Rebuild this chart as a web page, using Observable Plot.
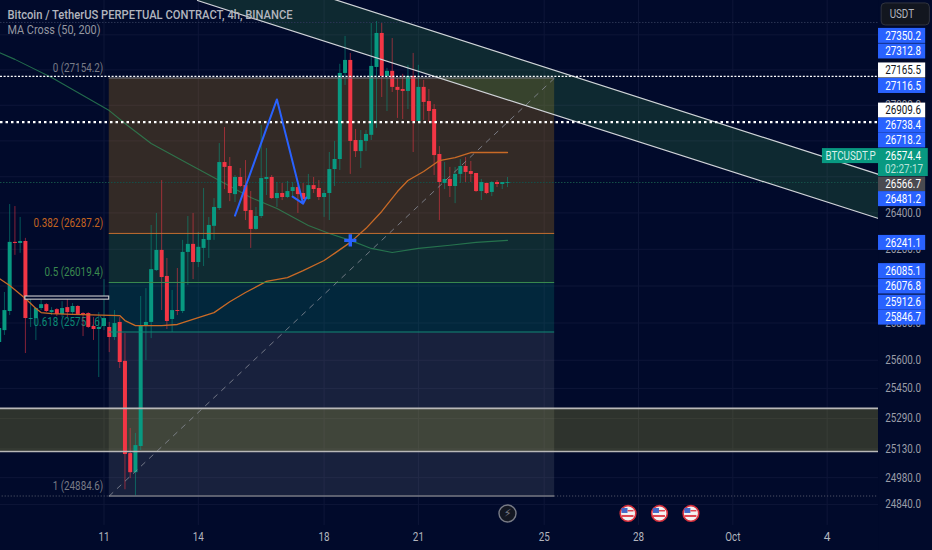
<!DOCTYPE html>
<html><head><meta charset="utf-8">
<script src="https://cdn.jsdelivr.net/npm/d3@7"></script>
<script src="https://cdn.jsdelivr.net/npm/@observablehq/plot@0.6"></script>
<style>html,body{margin:0;padding:0;background:#010a2b;overflow:hidden}svg{display:block}</style>
</head><body><div id="chart"></div>
<script>
const BG = "#010a2b";
const firstBar = -20;
const opens = [25695,25759,25862,26238,26232,26243,25819,25824,25878,25899,25856,25872,25846,25883,25856,25889,25851,25851,25781,25765,25781,25776,25722,25803,25594,25106,25006,25143,25786,25803,26084,26194,26052,25819,25867,25862,26183,26227,26128,26205,26249,26326,26424,26679,26657,26501,26596,26551,26413,26309,26380,26585,26596,26479,26507,26485,26518,26540,26507,26474,26551,26535,26485,26507,26640,26696,27180,27254,26802,26740,26797,26831,27214,27408,27163,27192,27101,27089,27078,27163,26909,27101,27021,26976,26724,26563,26585,26546,26613,26657,26629,26618,26518,26563,26513,26568,26557,26563];
const highs = [25813,25965,26446,26435,26375,26260,25937,25883,25926,25905,25883,25878,25915,25937,25905,25894,25856,25856,25829,25856,26035,25803,25867,25829,25743,25238,25212,25943,25986,26331,26397,26579,26150,25976,26095,26249,26380,26397,26293,26535,26375,26479,26785,26875,26707,26607,26646,26690,26518,26430,26886,26757,26607,26568,26563,26574,26568,26551,26563,26613,26596,26579,26524,26735,26797,27232,27391,27294,26864,26858,26858,27465,27476,27465,27209,27379,27152,27175,27226,27294,27226,27141,27089,27004,26768,26679,26652,26652,26696,26707,26685,26618,26585,26563,26574,26579,26568,26596];
const lows = [25652,25733,25840,26167,26178,25636,25776,25706,25867,25856,25840,25835,25829,25829,25840,25840,25727,25770,25706,25508,25759,25641,25706,25556,24917,24975,24885,25122,25599,25716,26079,25867,25765,25749,25840,25851,26003,26035,26100,26106,26150,26249,26413,26529,26462,26457,26540,26358,26205,26304,26369,26496,26474,26430,26468,26479,26485,26397,26451,26468,26507,26468,26375,26358,26546,26635,27112,26613,26707,26646,26740,26802,26870,27044,26965,27072,26926,26920,26976,26735,26903,26915,26903,26607,26358,26529,26485,26451,26563,26568,26568,26513,26468,26501,26490,26540,26529,26540];
const closes = [25770,25867,26238,26232,26243,25824,25824,25878,25899,25862,25867,25846,25878,25856,25889,25846,25846,25776,25765,25776,25824,25722,25797,25588,25101,25006,25148,25786,25803,26089,26194,26046,25808,25867,25862,26183,26227,26128,26211,26254,26331,26430,26679,26652,26507,26596,26546,26408,26309,26380,26590,26596,26479,26507,26485,26518,26540,26501,26474,26551,26529,26485,26507,26640,26696,27180,27254,26797,26740,26802,26836,27220,27408,27163,27192,27101,27084,27078,27163,26909,27101,27016,26965,26718,26568,26585,26546,26613,26657,26624,26613,26518,26568,26507,26568,26557,26568,26568];

const maFastBars = [-20,-18,-15,-13,-12,-10,-6,3,4,6,11,14,18,21,24,27,31,35,38,42,44,47,50,53,56,58,61,64,67,70,72,77];
const maFast = [26041,26003,25932,25878,25856,25851,25846,25840,25813,25786,25786,25792,25829,25856,25915,25965,26025,26046,26084,26139,26178,26238,26315,26408,26518,26579,26629,26690,26707,26735,26735,26735];
const maSlowBars = [-20,-17,-10,-5,1,4.5,9,16,22,28,33,39,43,47,51,55,60,66,71,77];
const maSlow = [27299,27260,27157,27072,26970,26886,26785,26674,26579,26485,26424,26331,26287,26249,26205,26183,26205,26222,26238,26249];

const fibBars = [1,86];
const fibPrices = [27154.2,26287.2,26019.4,25751.6,24884.6];
const fibLabels = ["0 (27154.2)","0.382 (26287.2)","0.5 (26019.4)","0.618 (25751.6)","1 (24884.6)"];
const fibLineColors = ["#787b86","#c96f2f","#3d8f4f","#0e8a78","#787b86"];
const fibTextColors = ["#787b86","#c4641f","#3b8a4f","#0b8a76","#787b86"];
const fibFillColors = ["rgb(255,170,18)","rgb(76,175,80)","rgb(8,153,129)","rgb(120,123,134)"];

const channelBars = [17.84,147.8];
const channelUpper = [27858,26613];
const channelLower = [27597,26369];
const bandPrices = [25344,25117];
const bandBars = [-20,147.8];
const boxPrices = [25943,25926];
const boxBars = [-15,1];

const zigBars = [25,33,38,36,38,38.6];
const zigPrices = [26385,27033,26451,26490,26451,26485];

const dottedTop = 27163;
const dottedMid = 26905;
const dottedFaint = [27471,26568];
const dottedFaintColors = ["#2b3554","#155049"];

const xTickBars = [0,18,42,60,84,102,120,138];
const xTickLabels = ["11","14","18","21","25","28","Oct","4"];
const yGrid = [24840,24980,25130,25290,25450,25600,25800,26000,26200,26400,26600,26800,27000,27200,27400];
const yTickLabels = [24840,24980,25130,25290,25450,25600,25800,26200,26400,27000];

const tagTexts = ["27350.2","27312.8","27165.5","27116.5","26909.6","26738.4","26718.2","26566.7","26481.2","26241.1","26085.1","26076.8","25912.6","25846.7"];
const tagAt = [27394,27305,27197,27109,26970,26886,26802,26557,26476,26235,26081,25997,25910,25829];
const tagFill = ["#2962ff","#2962ff","#ffffff","#2962ff","#ffffff","#2962ff","#2962ff","#4a4a50","#2962ff","#2962ff","#2962ff","#2962ff","#2962ff","#2962ff"];
const tagInk = ["#ffffff","#ffffff","#131722","#ffffff","#131722","#ffffff","#ffffff","#ffffff","#ffffff","#ffffff","#ffffff","#ffffff","#ffffff","#ffffff"];

const titleText = "Bitcoin / TetherUS PERPETUAL CONTRACT, 4h, BINANCE";
const studyText = "MA Cross (50, 200)";
const flagBars = [100,106,112];
const eventBar = 77;
const eventPrice = 24794;

const GREEN = "#089981", RED = "#f23645", BLUE = "#2962ff", TEAL = "#089981";
const FONT = "Roboto,'Noto Sans',sans-serif";
const idx = opens.map((d,i)=>i);
const barOf = i => firstBar + i;
const col = i => closes[i] >= opens[i] ? GREEN : RED;
const pairs = (xs,ys) => xs.map((x,i)=>({x,y:ys[i]}));
const axisX = [147.8,166];

const marks = [];
marks.push(Plot.ruleY(yGrid,{y:d=>d,stroke:"#0e1638",strokeWidth:1}));
marks.push(Plot.ruleX(xTickBars,{x:d=>d,y1:24732,y2:27700,stroke:"#0e1638",strokeWidth:1}));

marks.push(Plot.rect(fibFillColors,{x1:fibBars[0],x2:fibBars[1],y1:(d,i)=>fibPrices[i],y2:(d,i)=>fibPrices[i+1],fill:d=>d,fillOpacity:0.2}));
marks.push(Plot.rect([0],{x1:bandBars[0],x2:bandBars[1],y1:bandPrices[0],y2:bandPrices[1],fill:"rgb(200,190,50)",fillOpacity:0.23}));
marks.push(Plot.areaY(channelBars,{x:d=>d,y1:(d,i)=>channelLower[i],y2:(d,i)=>channelUpper[i],fill:"rgb(76,175,80)",fillOpacity:0.19}));

marks.push(Plot.ruleY(dottedFaint,{y:d=>d,stroke:(d,i)=>dottedFaintColors[i],strokeWidth:1,strokeDasharray:"1.5,1.5"}));
marks.push(Plot.ruleY([fibPrices[4]],{y:d=>d,x1:-20,x2:1,stroke:"#5d6070",strokeWidth:1,strokeDasharray:"1,2"}));
marks.push(Plot.ruleY([fibPrices[4]],{y:d=>d,x1:86,x2:147.8,stroke:"#5d6070",strokeWidth:1,strokeDasharray:"1,2"}));

marks.push(Plot.text(fibLabels,{x:fibBars[0],y:(d,i)=>fibPrices[i],text:d=>d,textAnchor:"end",dx:-6,dy:-10,fill:(d,i)=>fibTextColors[i],fontSize:12}));

marks.push(Plot.line(pairs(maSlowBars,maSlow),{x:"x",y:"y",stroke:"#2e8b57",strokeWidth:1.1,strokeOpacity:0.75}));

marks.push(Plot.ruleX(idx,{x:barOf,y1:i=>lows[i],y2:i=>highs[i],stroke:col,strokeWidth:1,strokeOpacity:0.55}));
marks.push(Plot.ruleX(idx,{x:barOf,y1:i=>opens[i],y2:i=>closes[i],stroke:col,strokeWidth:4}));

marks.push(Plot.line(pairs(maFastBars,maFast),{x:"x",y:"y",stroke:"#c96a26",strokeWidth:1.3}));

marks.push(Plot.ruleY(fibPrices,{y:d=>d,x1:fibBars[0],x2:fibBars[1],stroke:(d,i)=>fibLineColors[i],strokeWidth:(d,i)=>i===4?1.5:1}));
marks.push(Plot.line(pairs([fibBars[0],fibBars[1]],[fibPrices[4],fibPrices[0]]),{x:"x",y:"y",stroke:"#8a8d99",strokeWidth:1,strokeDasharray:"5,6",strokeOpacity:0.8}));

marks.push(Plot.ruleY(bandPrices,{y:d=>d,x1:bandBars[0],x2:bandBars[1],stroke:"#b8b8b8",strokeWidth:1.6}));
marks.push(Plot.rect([0],{x1:boxBars[0],x2:boxBars[1],y1:boxPrices[0],y2:boxPrices[1],fill:BG,stroke:"#d0d0d0",strokeWidth:1.1}));

marks.push(Plot.line(pairs(channelBars,channelUpper),{x:"x",y:"y",stroke:"#d0d4d8",strokeWidth:1.2}));
marks.push(Plot.line(pairs(channelBars,channelLower),{x:"x",y:"y",stroke:"#d0d4d8",strokeWidth:1.2}));

marks.push(Plot.ruleY([dottedTop],{y:d=>d,stroke:"#ffffff",strokeWidth:1.2,strokeDasharray:"2,1.6"}));
marks.push(Plot.ruleY([dottedMid],{y:d=>d,stroke:"#ffffff",strokeWidth:2.4,strokeDasharray:"2.5,3"}));

marks.push(Plot.line(pairs(zigBars,zigPrices),{x:"x",y:"y",stroke:BLUE,strokeWidth:2}));
marks.push(Plot.dot([47],{x:d=>d,y:26249,symbol:"plus",r:4,stroke:BLUE,strokeWidth:3.4}));

marks.push(Plot.dot([eventBar],{x:d=>d,y:eventPrice,r:8.5,stroke:"#787b86",strokeWidth:1.4,fill:"#131722"}));
marks.push(Plot.text([eventBar],{x:d=>d,y:eventPrice,text:()=>"\u26A1",fontFamily:"DejaVu Sans",fontSize:11,fill:"#787b86"}));
marks.push(Plot.dot(flagBars,{x:d=>d,y:eventPrice,r:7.8,stroke:"#d8303c",strokeWidth:1.6,fill:"#f2f2f2"}));
marks.push(Plot.rect(flagBars,{x1:d=>d,x2:d=>d,y1:eventPrice,y2:eventPrice,insetLeft:-6,insetRight:0,insetTop:-5,insetBottom:0,fill:"#4468c8"}));
marks.push(Plot.rect(flagBars,{x1:d=>d,x2:d=>d,y1:eventPrice,y2:eventPrice,insetLeft:0,insetRight:-6,insetTop:-3,insetBottom:1.5,fill:"#e0444f"}));
marks.push(Plot.rect(flagBars,{x1:d=>d,x2:d=>d,y1:eventPrice,y2:eventPrice,insetLeft:-6,insetRight:-6,insetTop:2,insetBottom:-4,fill:"#e0444f"}));

marks.push(Plot.rect([0],{x1:axisX[0],x2:axisX[1],y1:24500,y2:27700,fill:BG}));
marks.push(Plot.text(yTickLabels,{y:d=>d,text:d=>d.toFixed(1),frameAnchor:"right",textAnchor:"end",dx:-11.5,fill:"#9a9da8",fontSize:12}));
marks.push(Plot.rect(tagTexts,{x1:147.8,x2:156.8,y1:(d,i)=>tagAt[i],y2:(d,i)=>tagAt[i],insetTop:-7.5,insetBottom:-7.5,fill:(d,i)=>tagFill[i]}));
marks.push(Plot.text(tagTexts,{y:(d,i)=>tagAt[i],text:d=>d,frameAnchor:"right",textAnchor:"end",dx:-11.5,fill:(d,i)=>tagInk[i],fontSize:12}));

marks.push(Plot.rect([0],{x1:137.1,x2:147.8,y1:26715,y2:26715,insetTop:-7.5,insetBottom:-7.5,fill:TEAL}));
marks.push(Plot.rect([0],{x1:147.8,x2:157.3,y1:26679,y2:26679,insetTop:-14,insetBottom:-14,fill:TEAL}));
marks.push(Plot.text(["BTCUSDT.P"],{x:137.1,y:26715,text:d=>d,textAnchor:"start",dx:3,fill:"#d8efe9",fontSize:12}));
marks.push(Plot.text(["26574.4"],{y:26715,text:d=>d,frameAnchor:"right",textAnchor:"end",dx:-11.5,fill:"#ffffff",fontSize:12}));
marks.push(Plot.text(["02:27:17"],{y:26640,text:d=>d,frameAnchor:"right",textAnchor:"end",dx:-9.5,fill:"#b9e3da",fontSize:12}));

marks.push(Plot.rect(["USDT"],{x1:148.4,x2:157.6,y1:27517,y2:27517,insetTop:-11,insetBottom:-11,fill:"#12161f",stroke:"#30343f",rx:4}));
marks.push(Plot.text(["USDT"],{x:148.4,y:27517,text:d=>d,textAnchor:"start",dx:8,fill:"#b2b5be",fontSize:12}));

marks.push(Plot.text(xTickLabels,{x:(d,i)=>xTickBars[i],text:d=>d,frameAnchor:"bottom",lineAnchor:"middle",dy:-13,fill:"#b2b5be",fontSize:12}));

marks.push(Plot.text([titleText],{text:d=>d,frameAnchor:"top-left",lineAnchor:"middle",textAnchor:"start",dx:7,dy:15,fill:"#b2b5be",fontSize:12,fontWeight:500}));
marks.push(Plot.text([studyText],{text:d=>d,frameAnchor:"top-left",lineAnchor:"middle",textAnchor:"start",dx:7,dy:30,fill:"#9598a1",fontSize:12}));

const chart = Plot.plot({
  width:932,height:550,margin:0,
  style:{background:BG,fontFamily:FONT},
  x:{type:"linear",domain:[0,77],range:[103.5,507],axis:null},
  y:{type:"log",domain:[24884.6,27154.2],range:[495.5,77.5],axis:null},
  marks
});
document.getElementById("chart").append(chart);

// The reference's type is tall and narrow: squeeze the glyphs to the same set width.
const title = {[titleText]:285,[studyText]:93};
chart.querySelectorAll("text").forEach(t=>{
  const s = t.textContent, w = t.getComputedTextLength();
  if (s.length < 2) return;
  t.setAttribute("textLength", (title[s] || w*0.82).toFixed(1));
  t.setAttribute("lengthAdjust","spacingAndGlyphs");
});
</script>
</body></html>
